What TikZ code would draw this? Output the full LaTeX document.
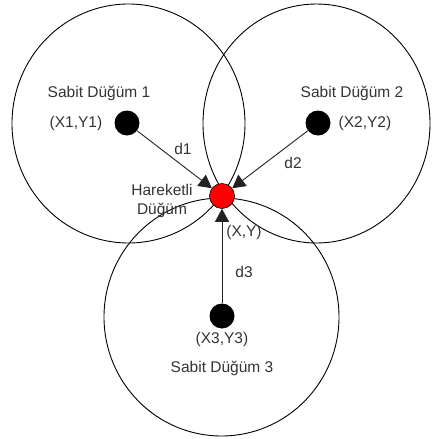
\documentclass[tikz,border=0pt]{standalone}
\usepackage{fontspec}
\setmainfont{Liberation Sans}
\usetikzlibrary{arrows.meta}
\definecolor{txt}{HTML}{333333}
\definecolor{lnk}{HTML}{222222}
\begin{document}
\begin{tikzpicture}[x=1pt,y=-1pt,
  ring/.style={draw=black,line width=0.9pt},
  fixed/.style={circle,fill=black,minimum size=25pt,inner sep=0pt},
  mobile/.style={circle,fill=red,draw=black,line width=0.6pt,minimum size=25pt,inner sep=0pt},
  lbl/.style={text=txt,font=\fontsize{15.5}{18}\selectfont,inner sep=0pt},
  link/.style={draw=lnk,line width=0.9pt,-{Triangle[length=13pt,width=14pt]},shorten >=0pt}]
\useasboundingbox (0,0) rectangle (431,439);
\draw[ring] (128.5,123.5) ellipse [x radius=116.5, y radius=119.5];
\draw[ring] (316.5,123.5) ellipse [x radius=113.5, y radius=119.5];
\draw[ring] (221.5,317) ellipse [x radius=117.5, y radius=119];
\node[fixed] (n1) at (127,123) {};
\node[fixed] (n2) at (318,123) {};
\node[fixed] (n3) at (222,316) {};
\node[mobile] (m) at (222,196) {};
\draw[link] (n1) -- (m);
\draw[link] (n2) -- (m);
\draw[link] (n3) -- (m);
\node[lbl] (t1) at (99,93) {Sabit Düğüm 1};
\node[lbl] (c1) at (76,123) {(X1,Y1)};
\node[lbl] (t2) at (352,93) {Sabit Düğüm 2};
\node[lbl] (c2) at (365,123) {(X2,Y2)};
\node[lbl] (d1) at (183,149) {d1};
\node[lbl] (d2) at (293,163) {d2};
\node[lbl] (d3) at (244,272) {d3};
\node[lbl,align=center] (h) at (162,201) {Hareketli\\[1pt]Düğüm};
\node[lbl] (cm) at (244,232) {(X,Y)};
\node[lbl] (c3) at (222,339) {(X3,Y3)};
\node[lbl] (t3) at (222,368) {Sabit Düğüm 3};
\end{tikzpicture}
\end{document}
